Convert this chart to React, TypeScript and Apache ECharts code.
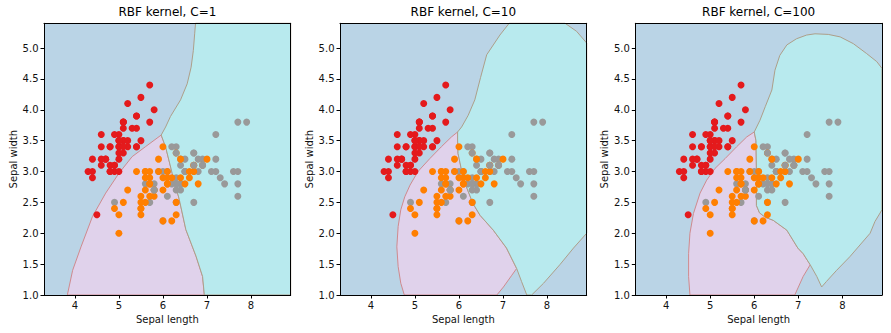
import React, { useEffect, useRef } from "react";
import * as echarts from "echarts";

// ---- data ----
const titles = ["RBF kernel, C=1", "RBF kernel, C=10", "RBF kernel, C=100"];
const xTicks = [4, 5, 6, 7, 8];
const yTicks = [1.0, 1.5, 2.0, 2.5, 3.0, 3.5, 4.0, 4.5, 5.0];
const xRange = [3.3, 8.9];
const yRange = [1.0, 5.4];

const setosa = [
  [5.1, 3.5], [4.9, 3.0], [4.7, 3.2], [4.6, 3.1], [5.0, 3.6], [5.4, 3.9], [4.6, 3.4], [5.0, 3.4], [4.4, 2.9], [4.9, 3.1],
  [5.4, 3.7], [4.8, 3.4], [4.8, 3.0], [4.3, 3.0], [5.8, 4.0], [5.7, 4.4], [5.4, 3.9], [5.1, 3.5], [5.7, 3.8], [5.1, 3.8],
  [5.4, 3.4], [5.1, 3.7], [4.6, 3.6], [5.1, 3.3], [4.8, 3.4], [5.0, 3.0], [5.0, 3.4], [5.2, 3.5], [5.2, 3.4], [4.7, 3.2],
  [4.8, 3.1], [5.4, 3.4], [5.2, 4.1], [5.5, 4.2], [4.9, 3.1], [5.0, 3.2], [5.5, 3.5], [4.9, 3.6], [4.4, 3.0], [5.1, 3.4],
  [5.0, 3.5], [4.5, 2.3], [4.4, 3.2], [5.0, 3.5], [5.1, 3.8], [4.8, 3.0], [5.1, 3.8], [4.6, 3.2], [5.3, 3.7], [5.0, 3.3],
];
const versicolor = [
  [7.0, 3.2], [6.4, 3.2], [6.9, 3.1], [5.5, 2.3], [6.5, 2.8], [5.7, 2.8], [6.3, 3.3], [4.9, 2.4], [6.6, 2.9], [5.2, 2.7],
  [5.0, 2.0], [5.9, 3.0], [6.0, 2.2], [6.1, 2.9], [5.6, 2.9], [6.7, 3.1], [5.6, 3.0], [5.8, 2.7], [6.2, 2.2], [5.6, 2.5],
  [5.9, 3.2], [6.1, 2.8], [6.3, 2.5], [6.1, 2.8], [6.4, 2.9], [6.6, 3.0], [6.8, 2.8], [6.7, 3.0], [6.0, 2.9], [5.7, 2.6],
  [5.5, 2.4], [5.5, 2.4], [5.8, 2.7], [6.0, 2.7], [5.4, 3.0], [6.0, 3.4], [6.7, 3.1], [6.3, 2.3], [5.6, 3.0], [5.5, 2.5],
  [5.5, 2.6], [6.1, 3.0], [5.8, 2.6], [5.0, 2.3], [5.6, 2.7], [5.7, 3.0], [5.7, 2.9], [6.2, 2.9], [5.1, 2.5], [5.7, 2.8],
];
const virginica = [
  [6.3, 3.3], [5.8, 2.7], [7.1, 3.0], [6.3, 2.9], [6.5, 3.0], [7.6, 3.0], [4.9, 2.5], [7.3, 2.9], [6.7, 2.5], [7.2, 3.6],
  [6.5, 3.2], [6.4, 2.7], [6.8, 3.0], [5.7, 2.5], [5.8, 2.8], [6.4, 3.2], [6.5, 3.0], [7.7, 3.8], [7.7, 2.6], [6.0, 2.2],
  [6.9, 3.2], [5.6, 2.8], [7.7, 2.8], [6.3, 2.7], [6.7, 3.3], [7.2, 3.2], [6.2, 2.8], [6.1, 3.0], [6.4, 2.8], [7.2, 3.0],
  [7.4, 2.8], [7.9, 3.8], [6.4, 2.8], [6.3, 2.8], [6.1, 2.6], [7.7, 3.0], [6.3, 3.4], [6.4, 3.1], [6.0, 3.0], [6.9, 3.1],
  [6.7, 3.1], [6.9, 3.1], [5.8, 2.7], [6.8, 3.2], [6.7, 3.3], [6.7, 3.0], [6.3, 2.5], [6.5, 3.0], [6.2, 3.4], [5.9, 3.0],
];
// virginica points that appear above the versicolor ones
const greyOnTop = [[5.8, 2.7], [6.3, 3.3], [6.7, 3.1], [6.9, 3.1]];

// decision regions (polygons in data coordinates)
const versicolorRegions = [
  [
    [5.96, 3.59], [5.6, 3.4], [5.3, 3.24], [5.0, 2.97], [4.7, 2.65], [4.4, 2.27], [4.14, 1.78], [3.95, 1.4], [3.83, 1.0],
    [6.94, 1.0], [6.9, 1.3], [6.75, 1.63], [6.52, 2.06], [6.37, 2.55], [6.21, 2.97], [6.06, 3.4],
  ],
  [
    [5.97, 3.64], [5.83, 3.56], [5.6, 3.4], [5.34, 3.21], [5.07, 3.0], [4.89, 2.78], [4.77, 2.59], [4.68, 2.38], [4.62, 2.11],
    [4.59, 1.78], [4.62, 1.46], [4.68, 1.19], [4.76, 1.0], [6.86, 1.0], [7.01, 1.13], [7.2, 1.32], [7.31, 1.43],
    [7.08, 1.76], [6.78, 2.05], [6.48, 2.29], [6.32, 2.48], [6.17, 2.75], [6.06, 3.02], [5.98, 3.29], [5.97, 3.51],
  ],
  [
    [6.0, 3.64], [5.83, 3.56], [5.6, 3.4], [5.34, 3.21], [5.11, 3.05], [4.92, 2.86], [4.77, 2.65], [4.62, 2.32], [4.54, 2.0],
    [4.51, 1.67], [4.51, 1.3], [4.54, 1.0], [6.92, 1.0], [7.11, 1.3], [7.27, 1.49], [7.11, 1.67], [6.99, 1.76],
    [6.74, 2.05], [6.43, 2.21], [6.25, 2.26], [6.12, 2.33], [6.05, 2.45], [6.05, 3.0], [6.04, 3.5],
  ],
];
const virginicaRegions = [
  [
    [6.74, 5.4], [6.72, 5.23], [6.69, 4.96], [6.64, 4.69], [6.55, 4.42], [6.4, 4.16], [6.17, 3.89], [6.06, 3.72], [5.96, 3.59],
    [6.06, 3.4], [6.21, 2.97], [6.37, 2.55], [6.52, 2.06], [6.75, 1.63], [6.9, 1.3], [6.94, 1.0], [8.9, 1.0], [8.9, 5.4],
  ],
  [
    [5.97, 3.64], [6.06, 3.72], [6.21, 3.91], [6.36, 4.16], [6.49, 4.52], [6.63, 4.89], [6.93, 5.21], [7.14, 5.4],
    [8.41, 5.4], [8.67, 5.27], [8.9, 5.08], [8.9, 2.0], [8.6, 1.76], [8.29, 1.49], [7.92, 1.19], [7.65, 1.0], [7.54, 1.0],
    [7.42, 1.22], [7.31, 1.43], [7.08, 1.76], [6.78, 2.05], [6.48, 2.29], [6.32, 2.48], [6.17, 2.75], [6.06, 3.02],
    [5.98, 3.29], [5.97, 3.51],
  ],
  [
    [6.0, 3.64], [6.13, 3.83], [6.25, 4.05], [6.4, 4.32], [6.47, 4.64], [6.58, 4.88], [6.74, 5.05], [6.96, 5.15],
    [7.19, 5.21], [7.38, 5.23], [7.68, 5.22], [7.95, 5.18], [8.25, 5.07], [8.55, 4.91], [8.78, 4.78], [8.9, 4.67],
    [8.9, 2.38], [8.74, 2.19], [8.63, 2.0], [8.4, 1.81], [8.17, 1.62], [7.87, 1.4], [7.64, 1.22], [7.53, 1.13],
    [7.42, 1.3], [7.27, 1.49], [7.11, 1.67], [6.99, 1.76], [6.74, 2.05], [6.43, 2.21], [6.25, 2.26], [6.12, 2.33],
    [6.05, 2.45], [6.05, 3.0], [6.04, 3.5],
  ],
];

// ---- styles ----
const FONT = "DejaVu Sans";
const gridLefts = [44, 340, 635.3];
const GRID_TOP = 23.3;
const GRID_W = 246.7;
const GRID_H = 271.7;
const C_SETOSA_BG = "#bad4e6";
const C_VERSI_BG = "#e0d2eb";
const C_VIRG_BG = "#b8eaee";
const C_RED = "#e41a1c";
const C_ORANGE = "#ff7f00";
const C_GREY = "#999999";

const isTop = (p: number[]) => greyOnTop.some((q) => q[0] === p[0] && q[1] === p[1]);

export default function App() {
  const ref = useRef<HTMLDivElement>(null);
  useEffect(() => {
    if (!ref.current) return;
    const chart = echarts.init(ref.current, undefined, { renderer: "svg" });

    const grid: any[] = [];
    const xAxis: any[] = [];
    const yAxis: any[] = [];
    const series: any[] = [];
    const title: any[] = [];

    const lineStyle = { color: "#000", width: 1 };
    const labelStyle = { fontSize: 10, color: "#111", fontFamily: FONT };

    for (let i = 0; i < 3; i++) {
      grid.push({
        left: gridLefts[i],
        top: GRID_TOP,
        width: GRID_W,
        height: GRID_H,
        show: true,
        backgroundColor: C_SETOSA_BG,
        borderWidth: 0,
        containLabel: false,
        outerBoundsMode: "none",
      });
      title.push({
        text: titles[i],
        left: gridLefts[i] + GRID_W / 2,
        top: 6,
        textAlign: "center",
        padding: 0,
        textStyle: { fontSize: 12, fontWeight: "normal", color: "#000", fontFamily: FONT },
      });
      xAxis.push({
        gridIndex: i,
        type: "value",
        min: xRange[0],
        max: xRange[1],
        position: "bottom",
        z: 10,
        axisLine: { show: true, onZero: false, lineStyle },
        axisTick: { show: true, inside: false, length: 3.5, customValues: xTicks, lineStyle },
        axisLabel: { show: true, customValues: xTicks, margin: 5, ...labelStyle },
        splitLine: { show: false },
        name: "Sepal length",
        nameLocation: "middle",
        nameGap: 19,
        nameTextStyle: { ...labelStyle },
      });
      xAxis.push({
        gridIndex: i,
        type: "value",
        min: xRange[0],
        max: xRange[1],
        position: "top",
        z: 10,
        axisLine: { show: true, onZero: false, lineStyle },
        axisTick: { show: false },
        axisLabel: { show: false },
        splitLine: { show: false },
      });
      yAxis.push({
        gridIndex: i,
        type: "value",
        min: yRange[0],
        max: yRange[1],
        position: "left",
        z: 10,
        axisLine: { show: true, onZero: false, lineStyle },
        axisTick: { show: true, inside: false, length: 3.5, customValues: yTicks, lineStyle },
        axisLabel: {
          show: true,
          customValues: yTicks,
          margin: 5.5,
          formatter: (v: number) => v.toFixed(1),
          ...labelStyle,
        },
        splitLine: { show: false },
        name: "Sepal width",
        nameLocation: "middle",
        nameRotate: 90,
        nameGap: 26,
        nameTextStyle: { ...labelStyle },
      });
      yAxis.push({
        gridIndex: i,
        type: "value",
        min: yRange[0],
        max: yRange[1],
        position: "right",
        z: 10,
        axisLine: { show: true, onZero: false, lineStyle },
        axisTick: { show: false },
        axisLabel: { show: false },
        splitLine: { show: false },
      });

      const xi = i * 2;
      const yi = i * 2;
      const polys = [
        { pts: versicolorRegions[i], fill: C_VERSI_BG, stroke: "#cf8a8e" },
        { pts: virginicaRegions[i], fill: C_VIRG_BG, stroke: "#ad9f8a" },
      ];
      series.push({
        type: "custom",
        coordinateSystem: "cartesian2d",
        xAxisIndex: xi,
        yAxisIndex: yi,
        silent: true,
        z: 1,
        data: polys.map((p, k) => ({ value: [p.pts[0][0], p.pts[0][1], k] })),
        encode: { x: 0, y: 1 },
        renderItem: (params: any, api: any) => {
          const p = polys[params.dataIndex];
          return {
            type: "polygon",
            shape: { points: p.pts.map((pt) => api.coord(pt)) },
            style: { fill: p.fill, stroke: p.stroke, lineWidth: 1 },
          };
        },
      });

      const scatter = (data: number[][], color: string, z: number) => ({
        type: "scatter",
        xAxisIndex: xi,
        yAxisIndex: yi,
        data,
        symbol: "circle",
        symbolSize: 7,
        silent: true,
        z,
        itemStyle: { color, opacity: 1 },
      });
      series.push(scatter(setosa, C_RED, 3));
      series.push(scatter(virginica.filter((p) => !isTop(p)), C_GREY, 4));
      series.push(scatter(versicolor, C_ORANGE, 5));
      series.push(scatter(virginica.filter((p) => isTop(p)), C_GREY, 6));
    }

    chart.setOption({
      animation: false,
      backgroundColor: "#ffffff",
      textStyle: { fontFamily: FONT },
      title,
      grid,
      xAxis,
      yAxis,
      series,
    });
    return () => chart.dispose();
  }, []);

  return (
    <div
      ref={ref}
      style={{ position: "fixed", left: 0, top: 0, width: 891, height: 333 }}
    />
  );
}
